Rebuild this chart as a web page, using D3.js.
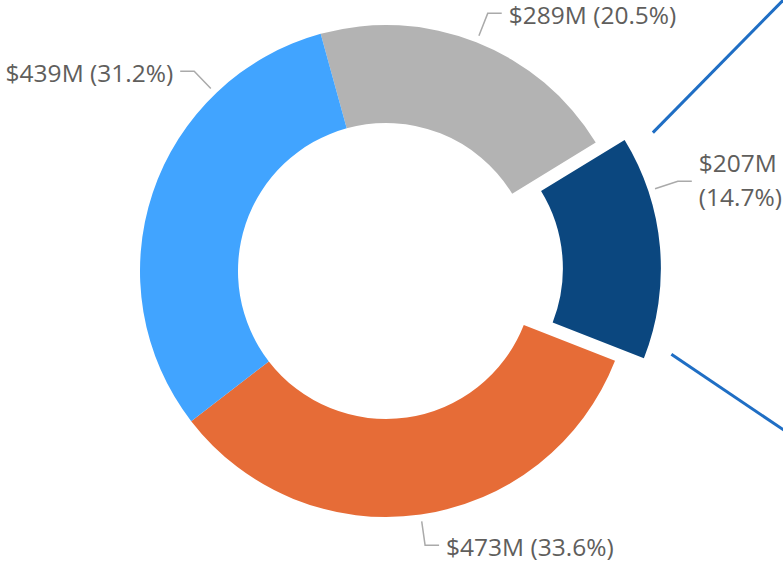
<!DOCTYPE html>
<html>
<head>
<meta charset="utf-8">
<script src="https://cdn.jsdelivr.net/npm/d3@7"></script>
<style>
  body { margin: 0; background: #fff; }
  text { font-family: "Segoe UI", "Open Sans", sans-serif; fill: #605e5c; }
</style>
</head>
<body>
<svg id="chart"></svg>
<script>
// slices, clockwise from just left of 12 o'clock
const categories = ['Segment A', 'Segment B', 'Segment C', 'Segment D'];
const values = [289, 207, 473, 439]; // $M
const colors = ['#b3b3b3', '#0b477f', '#e66c37', '#41a4ff'];
const explodedCategory = 'Segment B';

const w = 783;
const h = 562;
const cx = 386, cy = 271;
const outerR = 246, innerR = 148;
const explode = 29;
const rad = deg => deg * Math.PI / 180;

// label angle nudges (deg) where the data label was moved off the middle
const labelNudge = { 'Segment B': -13.3, 'Segment D': 27.7 };

const svg = d3.select('#chart')
  .attr('width', w)
  .attr('height', h);

const total = d3.sum(values);
const fmtPct = d3.format('.1%');

const start = rad(-15.4);
const pie = d3.pie()
  .sort(null)
  .startAngle(start)
  .endAngle(start + 2 * Math.PI);

const arc = d3.arc()
  .innerRadius(innerR)
  .outerRadius(outerR);

const slices = pie(values).map((d, i) => ({ ...d, cat: categories[i] }));

const polar = (r, a) => [r * Math.sin(a), -r * Math.cos(a)];
const shiftOf = d => {
  if (d.cat !== explodedCategory) return [0, 0];
  return polar(explode, (d.startAngle + d.endAngle) / 2);
};

const g = svg.append('g')
  .attr('transform', `translate(${cx},${cy})`);

// connector lines from the exploded slice to the (off-screen) detail visual
const ex = slices.find(d => d.cat === explodedCategory);
const exShift = shiftOf(ex);
const connectors = [
  { a: ex.startAngle + rad(1.8), r: outerR + 28, to: [800 - cx, -17 - cy] },
  { a: ex.endAngle - rad(2.9), r: outerR + 24.5, to: [800 - cx, 441 - cy] }
];
g.selectAll('.connector')
  .data(connectors)
  .join('line')
    .attr('class', 'connector')
    .attr('x1', d => polar(d.r, d.a)[0] + exShift[0])
    .attr('y1', d => polar(d.r, d.a)[1] + exShift[1])
    .attr('x2', d => d.to[0])
    .attr('y2', d => d.to[1])
    .attr('stroke', '#1f6ec4')
    .attr('stroke-width', 3);

g.selectAll('.slice')
  .data(slices)
  .join('path')
    .attr('class', 'slice')
    .attr('d', arc)
    .attr('transform', d => `translate(${shiftOf(d)})`)
    .attr('fill', (d, i) => colors[i]);

// data labels with leader lines
const labels = g.selectAll('.label')
  .data(slices)
  .join('g')
    .attr('class', 'label')
    .attr('transform', d => `translate(${shiftOf(d)})`);

slices.forEach(d => {
  d.la = (d.startAngle + d.endAngle) / 2 + rad(labelNudge[d.cat] || 0);
  d.side = Math.sin(d.la) >= 0 ? 1 : -1;
  d.p0 = polar(outerR + 7, d.la);
  d.p1 = polar(outerR + 31, d.la);
  d.p2 = [d.p1[0] + 14 * d.side, d.p1[1]];
});

labels.append('polyline')
  .attr('points', d => [d.p0, d.p1, d.p2].join(' '))
  .attr('fill', 'none')
  .attr('stroke', '#aaaaaa')
  .attr('stroke-width', 1.5);

labels.each(function(d) {
  const money = `$${d.value}M`;
  const pct = `(${fmtPct(d.value / total)})`;
  const t = d3.select(this).append('text')
    .attr('x', d.p2[0] + 7 * d.side)
    .attr('y', d.p2[1])
    .attr('text-anchor', d.side > 0 ? 'start' : 'end')
    .attr('font-size', 24.5);
  if (d.cat === explodedCategory) {
    t.append('tspan').attr('x', d.p2[0] + 7 * d.side).attr('dy', '-0.36em').text(money);
    t.append('tspan').attr('x', d.p2[0] + 7 * d.side).attr('dy', '1.36em').text(pct);
  } else {
    t.attr('dy', '0.43em').text(`${money} ${pct}`);
  }
});
</script>
</body>
</html>
